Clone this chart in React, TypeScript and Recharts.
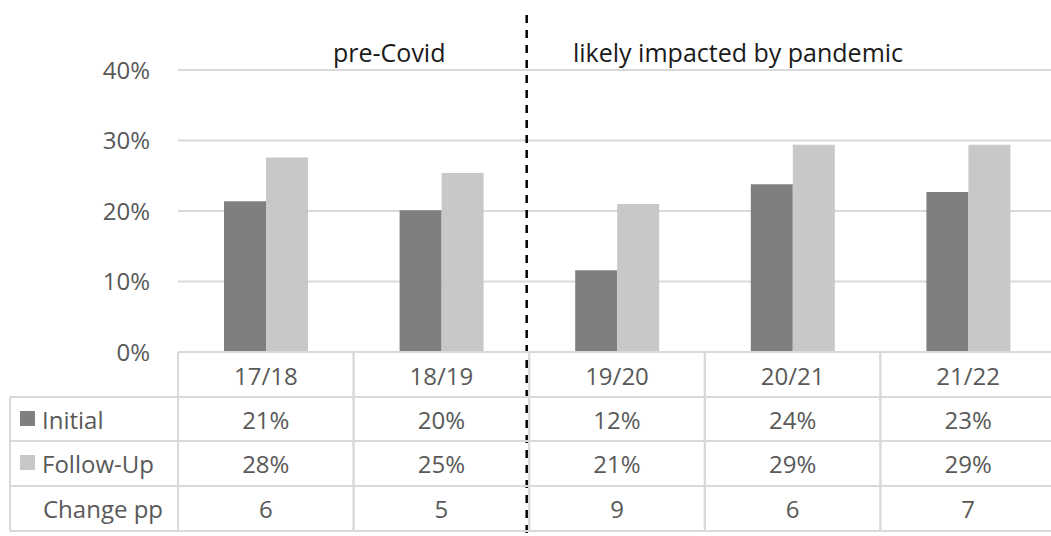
import { BarChart, Bar, XAxis, YAxis, CartesianGrid, ReferenceLine } from 'recharts'

const categories = ['17/18', '18/19', '19/20', '20/21', '21/22']
const initial = [0.214, 0.201, 0.116, 0.238, 0.227]
const followUp = [0.276, 0.254, 0.21, 0.294, 0.294]
const changePp = [6, 5, 9, 6, 7]
const yTicks = [0, 0.1, 0.2, 0.3, 0.4]

const DARK = '#7f7f7f'
const LIGHT = '#c8c8c8'
const LINE = '#d9d9d9'
const TEXT = '#595959'
const FONT = '"Open Sans", "Noto Sans", sans-serif'

const W = 1056
const H = 536
const LEFT = 178
const colW = (W - LEFT) / categories.length

const data = categories.map((c, i) => ({ cat: c, initial: initial[i], followUp: followUp[i] }))

const pct = (v: number) => `${Math.round(v * 100)}%`

// x-axis tick that draws one column of the data table under the plot
function TableTick(props: any) {
  const { x, y, payload } = props
  const i = payload.index
  const l = x - colW / 2
  const r = x + colW / 2
  const rows = [y, y + 45, y + 89, y + 134, y + 179]
  const mid = [y + 23, y + 67, y + 111, y + 156]
  const txt = { fontFamily: FONT, fontSize: 24, fill: TEXT, textAnchor: 'middle' as const, dominantBaseline: 'central' as const }
  return (
    <g>
      {rows.map((ry, k) => (
        <line key={k} x1={l} x2={r} y1={ry} y2={ry} stroke={LINE} strokeWidth={2} />
      ))}
      <line x1={l} x2={l} y1={y} y2={y + 179} stroke={LINE} strokeWidth={2} />
      <line x1={r} x2={r} y1={y} y2={y + 179} stroke={LINE} strokeWidth={2} />
      <text x={x} y={mid[0]} {...txt}>{categories[i]}</text>
      <text x={x} y={mid[1]} {...txt}>{pct(initial[i])}</text>
      <text x={x} y={mid[2]} {...txt}>{pct(followUp[i])}</text>
      <text x={x} y={mid[3]} {...txt}>{changePp[i]}</text>
      {i === 0 && (
        <g>
          {rows.slice(1).map((ry, k) => (
            <line key={k} x1={10} x2={l} y1={ry} y2={ry} stroke={LINE} strokeWidth={2} />
          ))}
          <line x1={10} x2={10} y1={y + 45} y2={y + 179} stroke={LINE} strokeWidth={2} />
          <rect x={20} y={mid[1] - 8} width={15} height={15} fill={DARK} />
          <rect x={20} y={mid[2] - 8} width={15} height={15} fill={LIGHT} />
          <text x={42} y={mid[1]} {...txt} textAnchor="start">Initial</text>
          <text x={42} y={mid[2]} {...txt} textAnchor="start">Follow-Up</text>
          <text x={43} y={mid[3]} {...txt} textAnchor="start">Change pp</text>
        </g>
      )}
    </g>
  )
}

const DashShape = (p: any) => (
  <line x1={p.x1 - 2.5} x2={p.x2 - 2.5} y1={p.y1} y2={p.y2} stroke="#000" strokeWidth={2.5} strokeDasharray="8 7" />
)

export default function App() {
  return (
    <div style={{ position: 'absolute', left: 0, top: 0, width: 1051, height: H, overflow: 'hidden', background: '#fff' }}>
      <BarChart width={W} height={H} data={data} margin={{ top: 70, right: 0, bottom: 0, left: 0 }} barGap={0} barSize={42}>
        <CartesianGrid vertical={false} stroke={LINE} strokeWidth={2} />
        <XAxis dataKey="cat" height={184} axisLine={false} tickLine={false} tickSize={0} tickMargin={0} tick={<TableTick />} interval={0} />
        <YAxis
          width={LEFT}
          domain={[0, 0.4]}
          ticks={yTicks}
          tickFormatter={(v: number) => `${Math.round(v * 100)}%`}
          axisLine={false}
          tickLine={false}
          tickSize={0}
          tickMargin={28}
          tick={{ fontFamily: FONT, fontSize: 24, fill: TEXT }}
        />
        <Bar dataKey="initial" fill={DARK} isAnimationActive={false} />
        <Bar dataKey="followUp" fill={LIGHT} isAnimationActive={false} />
        <ReferenceLine
          segment={[{ x: '18/19', y: 0.478 }, { x: '18/19', y: -0.26 }]}
          position="end"
          ifOverflow="visible"
          shape={DashShape}
        />
      </BarChart>
      <div style={{ position: 'absolute', left: 333, top: 35, fontFamily: FONT, fontSize: 25, color: '#1a1a1a' }}>pre-Covid</div>
      <div style={{ position: 'absolute', left: 573, top: 35, fontFamily: FONT, fontSize: 25, color: '#1a1a1a' }}>likely impacted by pandemic</div>
    </div>
  )
}
